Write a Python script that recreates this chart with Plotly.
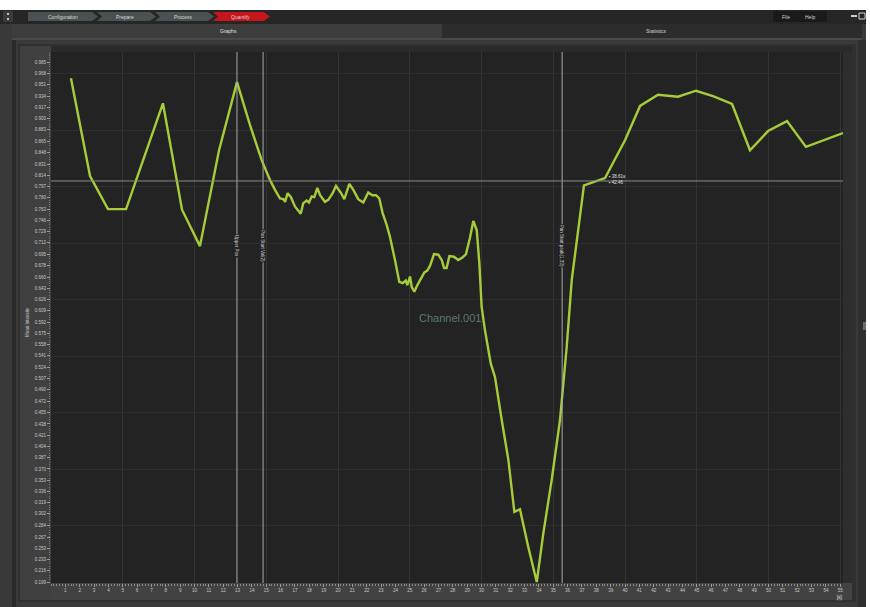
import plotly.graph_objects as go

# ---- data -------------------------------------------------------------
time_s = [1.39, 2.72, 3.97, 5.23, 7.80, 9.13, 10.38, 11.71, 12.96, 13.87,
          14.68, 15.26, 15.61, 15.96, 16.19, 16.31, 16.49, 16.72, 17.00, 17.40,
          17.58, 17.82, 17.98, 18.17, 18.35, 18.56, 18.75, 19.09, 19.32, 19.63,
          19.86, 20.19, 20.44, 20.79, 21.07, 21.41, 21.76, 22.11, 22.39, 22.65,
          22.88, 23.11, 23.39, 23.62, 23.97, 24.27, 24.51, 24.72, 24.83, 25.02,
          25.14, 25.32, 25.53, 25.83, 26.01, 26.22, 26.41, 26.69, 26.99, 27.23,
          27.39, 27.57, 27.76, 28.08, 28.38, 28.69, 28.92, 29.20, 29.43, 29.67,
          29.85, 30.01, 30.24, 30.64, 30.94, 31.41, 31.87, 32.29, 32.68, 33.26,
          33.85, 34.31, 34.89, 35.47, 35.94, 36.29, 37.14, 38.61, 40.00, 41.05,
          42.30, 43.69, 44.95, 46.13, 47.46, 48.71, 49.97, 51.29, 52.61, 55.19]
mean_intensity = [0.961, 0.813, 0.763, 0.763, 0.923, 0.762, 0.707, 0.852, 0.955, 0.890,
                  0.837, 0.807, 0.792, 0.779, 0.778, 0.774, 0.787, 0.781, 0.767, 0.756,
                  0.772, 0.776, 0.773, 0.782, 0.781, 0.795, 0.784, 0.774, 0.777, 0.787,
                  0.798, 0.788, 0.778, 0.801, 0.792, 0.778, 0.773, 0.788, 0.784, 0.784,
                  0.779, 0.757, 0.739, 0.721, 0.686, 0.653, 0.651, 0.655, 0.648, 0.661,
                  0.645, 0.638, 0.648, 0.661, 0.667, 0.670, 0.677, 0.695, 0.694, 0.686,
                  0.674, 0.674, 0.692, 0.691, 0.686, 0.690, 0.695, 0.720, 0.745, 0.731,
                  0.681, 0.615, 0.580, 0.530, 0.509, 0.444, 0.384, 0.305, 0.309, 0.252,
                  0.199, 0.273, 0.353, 0.444, 0.555, 0.656, 0.799, 0.810, 0.867, 0.919,
                  0.936, 0.933, 0.942, 0.934, 0.922, 0.852, 0.881, 0.896, 0.857, 0.878]

x_ticks = list(range(1, 56))
y_tick_labels = ["0.199", "0.216", "0.233", "0.250", "0.267", "0.284", "0.302", "0.319",
                 "0.336", "0.353", "0.370", "0.387", "0.404", "0.421", "0.438", "0.455",
                 "0.472", "0.490", "0.507", "0.524", "0.541", "0.558", "0.575", "0.592",
                 "0.609", "0.626", "0.643", "0.660", "0.678", "0.695", "0.712", "0.729",
                 "0.746", "0.763", "0.780", "0.797", "0.814", "0.831", "0.848", "0.865",
                 "0.883", "0.900", "0.917", "0.934", "0.951", "0.968", "0.985"]
y_ticks = [float(v) for v in y_tick_labels]

marker_x = [12.96, 14.78, 35.62]
marker_text = ["Upper Pos", "Pan Start Val(2)", "Pan Start peak(1,33)"]

cursor_x = 38.61
cursor_y = 0.8055
cursor_text = "▪ 38.61s<br>▪ 42.46"

steps = ["Configuration", "Prepare", "Process", "Quantify"]

# ---- geometry helpers (page pixels -> paper fractions) ----------------
W, H = 870, 607
L, R, T, B = 51, 843, 52, 583
UI_FONT = "Liberation Sans"


def px(x):
    return (x - L) / (R - L)


def py(y):
    return (B - y) / (B - T)


def rect(x0, y0, x1, y1, fill, line=None, lw=0):
    return dict(type="rect", xref="paper", yref="paper",
                x0=px(x0), x1=px(x1), y0=py(y1), y1=py(y0),
                fillcolor=fill, line=dict(color=line or fill, width=lw),
                layer="below")


def poly(pts, fill):
    d = "M " + " L ".join(f"{px(a):.5f},{py(b):.5f}" for a, b in pts) + " Z"
    return dict(type="path", xref="paper", yref="paper", path=d,
                fillcolor=fill, line=dict(width=0), layer="below")


def label(text, x, y, size=5, color="#d8d8d8", **kw):
    return dict(text=text, x=px(x), y=py(y), xref="paper", yref="paper",
                xanchor=kw.pop("xanchor", "center"), yanchor=kw.pop("yanchor", "middle"),
                showarrow=False, font=dict(size=size, color=color, family=UI_FONT), **kw)


shapes = []
annotations = []

# window chrome
shapes.append(rect(0, 0, W, 10, "#ffffff"))
shapes.append(rect(0, 10, W, 24, "#262626"))
shapes.append(rect(3, 11, 13, 22, "#3a3a3a"))
shapes.append(rect(7, 13, 9, 15, "#bdbdbd"))
shapes.append(rect(7, 18, 9, 20, "#bdbdbd"))
# breadcrumb steps
crumbs = [(28, 94), (94, 152), (152, 210), (210, 266)]
for i, ((a, b), name) in enumerate(zip(crumbs, steps)):
    col = "#c4161c" if name == "Quantify" else "#4b5152"
    start = a if i == 0 else a + 3
    pts = [(start, 12), (b - 2, 12), (b + 4, 16.5), (b - 2, 21), (start, 21)]
    if i > 0:
        pts.append((start + 5, 16.5))
    shapes.append(poly(pts, col))
    annotations.append(label(name, (a + b) / 2 + 2, 16.5))
# file / help box
shapes.append(rect(773, 11, 827, 22, "#1a1a1a"))
annotations.append(label("File", 786, 16.5, color="#d0d0d0"))
annotations.append(label("Help", 810, 16.5, color="#d0d0d0"))
shapes.append(rect(851, 15, 857, 17, "#cfcfcf"))
shapes.append(rect(859, 13, 865, 19, "#262626", "#cfcfcf", 1))

# tabs
shapes.append(rect(12, 24, 442, 39, "#3d3d3d"))
shapes.append(rect(442, 24, 862, 39, "#2c2c2c"))
shapes.append(rect(12, 38, 862, 40, "#4a4a4a"))
annotations.append(label("Graphs", 228, 31.5, color="#e0e0e0"))
annotations.append(label("Statistics", 656, 31.5, color="#d0d0d0"))

# panel frame, axis strips and plotting surface
shapes.append(rect(12, 40, 16, H, "#2a2a2a"))
shapes.append(rect(858, 40, 866, H, "#2f2f2f"))
shapes.append(rect(16, 42, 858, H, "#3a3a3a"))
shapes.append(rect(18, 44, 856, 602, "#303030"))
shapes.append(rect(20, 46, L, 600, "#404040"))
shapes.append(rect(L, B, 852, 600, "#424242"))
shapes.append(rect(L, 46, 852, T, "#2a2a2a"))
shapes.append(rect(R, T, 852, B, "#2e2e2e"))
shapes.append(rect(L, T, R, B, "#232323"))
shapes.append(rect(866, 0, W, H, "#ffffff"))
shapes.append(rect(863, 322, 866, 330, "#6a6a6a"))

# marker lines and cursor
for mx, mt in zip(marker_x, marker_text):
    shapes.append(dict(type="line", xref="x", yref="paper", x0=mx, x1=mx, y0=0, y1=1,
                       line=dict(color="#a8a8a8", width=1), layer="above"))
    annotations.append(dict(text=mt, x=mx, y=py(246), xref="x", yref="paper",
                            textangle=90, showarrow=False, bgcolor="#232323", borderpad=0,
                            font=dict(size=4.5, color="#d0d0d0", family=UI_FONT)))
shapes.append(dict(type="line", xref="paper", yref="y", x0=0, x1=1, y0=cursor_y, y1=cursor_y,
                   line=dict(color="#8a8a8a", width=1), layer="above"))
annotations.append(dict(text=cursor_text, x=cursor_x, y=cursor_y, xref="x", yref="y",
                        xanchor="left", yanchor="bottom", xshift=2, yshift=-6,
                        showarrow=False, align="left",
                        font=dict(size=4.5, color="#e0e0e0", family=UI_FONT)))

annotations.append(dict(text="Channel.001", x=27.8, y=0.598, xref="x", yref="y",
                        showarrow=False,
                        font=dict(size=11, color="#5c7a70", family=UI_FONT)))
annotations.append(label("Mean Intensity", 27, 322, size=4.5, color="#c8c8c8", textangle=-90))
annotations.append(label("[s]", 839, 597, size=4.5, bgcolor="#555555", borderpad=0))

fig = go.Figure()
fig.add_trace(go.Scatter(x=time_s, y=mean_intensity, mode="lines",
                         line=dict(color="#a6cc3a", width=2.4), hoverinfo="skip",
                         showlegend=False))
# coarse grid on overlay axes
fig.add_trace(go.Scatter(x=[None], y=[None], xaxis="x2", yaxis="y2", showlegend=False))

xr = [0, (R - L) / 14.35]
yr = [0.199 - 0.0015124, 0.199 + (583 - T - 1) * 0.0015124]

fig.update_layout(
    width=W, height=H,
    margin=dict(l=L, r=W - R, t=T, b=H - B, pad=0),
    paper_bgcolor="#393939", plot_bgcolor="#232323",
    shapes=shapes, annotations=annotations,
    font=dict(family=UI_FONT, color="#c8c8c8"),
    xaxis=dict(range=xr, tickvals=x_ticks, ticktext=[str(v) for v in x_ticks],
               showgrid=False, zeroline=False, ticks="outside", ticklen=3,
               tickcolor="#9a9a9a", tickfont=dict(size=4.5, color="#c8c8c8"),
               minor=dict(dtick=0.2, ticks="outside", ticklen=2, tickcolor="#8a8a8a"),
               showline=False, fixedrange=True),
    yaxis=dict(range=yr, tickvals=y_ticks, ticktext=y_tick_labels,
               showgrid=False, zeroline=False, ticks="outside", ticklen=3,
               tickcolor="#9a9a9a", tickfont=dict(size=4.5, color="#c8c8c8"),
               minor=dict(tick0=0.199, dtick=0.0034178, ticks="outside", ticklen=1.5,
                          tickcolor="#7a7a7a"),
               showline=False, fixedrange=True),
    xaxis2=dict(range=xr, overlaying="x", tick0=0, dtick=5, showgrid=True,
                gridcolor="#343434", gridwidth=1, showticklabels=False, ticks="",
                zeroline=False),
    yaxis2=dict(range=yr, overlaying="y", tick0=0.199, dtick=0.08545, showgrid=True,
                gridcolor="#2e2e2e", gridwidth=1, showticklabels=False, ticks="",
                zeroline=False),
)

fig.write_html("out.html")
